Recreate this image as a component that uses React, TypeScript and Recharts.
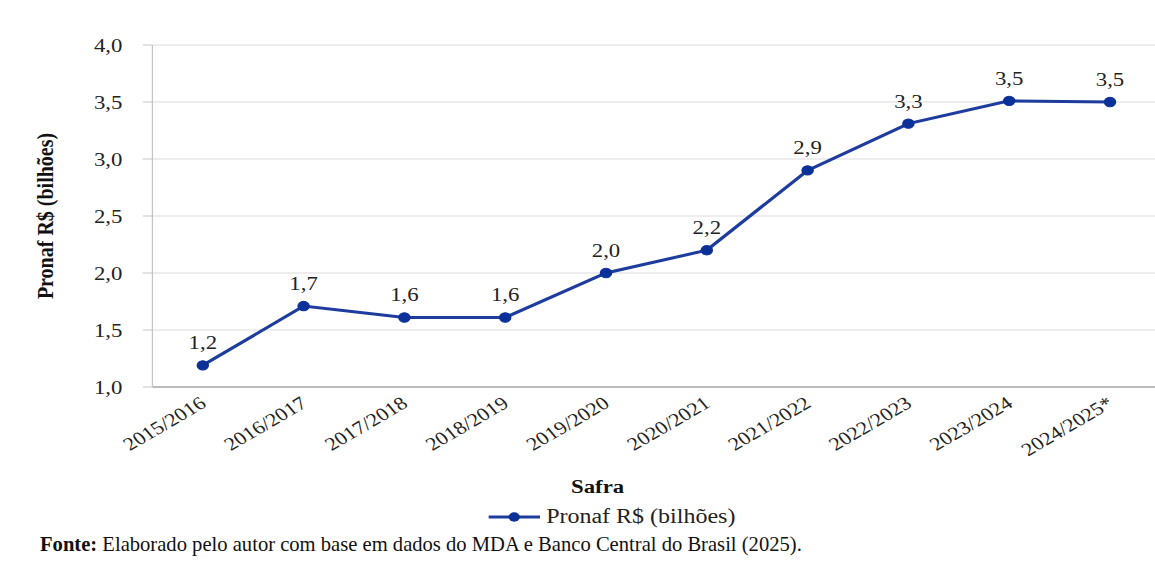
import React from 'react';
import { LineChart, Line, XAxis, YAxis, CartesianGrid, Legend, LabelList } from 'recharts';

const safras = ['2015/2016', '2016/2017', '2017/2018', '2018/2019', '2019/2020', '2020/2021', '2021/2022', '2022/2023', '2023/2024', '2024/2025*'];
const pronaf = [1.19, 1.71, 1.61, 1.61, 2.0, 2.2, 2.9, 3.31, 3.51, 3.5];
const yTicks = [1.0, 1.5, 2.0, 2.5, 3.0, 3.5, 4.0];

const chartData = safras.map((s, i) => ({ safra: s, valor: pronaf[i] }));

const FONT = '"Liberation Serif"';
const LINE = '#1d3c9d';
const DOT = '#0b3199';
// the source figure is stretched sideways, so the chart is drawn narrower and widened
const STRETCH = 1.2;

const fmt = (v: number) => v.toFixed(1).replace('.', ',');

const SafraTick = (props: any) => {
  const { x, y, payload } = props;
  const tx = x + 4;
  const ty = y + 11;
  return (
    <text x={tx} y={ty} textAnchor="end" fontSize={18.5} fontFamily={FONT} fill="#222" transform={`rotate(-35, ${tx}, ${ty})`}>
      {payload.value}
    </text>
  );
};

const LegendBox = () => (
  <div style={{ display: 'flex', alignItems: 'center', justifyContent: 'center', fontFamily: FONT, fontSize: 20, color: '#222', marginLeft: 53 }}>
    <svg width={43} height={12} style={{ marginRight: 5 }}>
      <line x1={0} y1={6} x2={43} y2={6} stroke={LINE} strokeWidth={3} />
      <circle cx={21.5} cy={6} r={4.7} fill={DOT} />
    </svg>
    <span>Pronaf R$ (bilhões)</span>
  </div>
);

export default function App() {
  return (
    <div style={{ position: 'absolute', left: 0, top: 0, width: 1155, height: 561, overflow: 'hidden', background: '#fff', fontFamily: FONT }}>
      <div style={{ width: 977, height: 561, transform: `scaleX(${STRETCH})`, transformOrigin: '0 0' }}>
        <LineChart width={977} height={561} data={chartData} margin={{ top: 45, right: 10, left: 0, bottom: 32 }}>
          <CartesianGrid vertical={false} stroke="#dcdcdc" />
          <XAxis
            dataKey="safra"
            height={118}
            padding={{ left: 42, right: 42 }}
            tick={<SafraTick />}
            tickLine={false}
            interval={0}
            stroke="#8a8a8a"
            label={{ value: 'Safra', position: 'insideBottom', offset: 12, dx: -49, style: { fontFamily: FONT, fontSize: 19, fontWeight: 700, fill: '#111' } }}
          />
          <YAxis
            width={127}
            domain={[1, 4]}
            ticks={yTicks}
            tickFormatter={fmt}
            tickSize={8}
            tickMargin={17}
            stroke="#c4c4c4"
            tick={{ fontFamily: FONT, fontSize: 19, fill: '#222' }}
            label={{ value: 'Pronaf R$ (bilhões)', angle: -90, position: 'insideLeft', offset: 37, style: { textAnchor: 'middle', fontFamily: FONT, fontSize: 20, fontWeight: 700, fill: '#111' } }}
          />
          <Legend verticalAlign="bottom" height={24} content={<LegendBox />} />
          <Line
            type="linear"
            dataKey="valor"
            stroke={LINE}
            strokeWidth={3}
            dot={{ r: 4.7, fill: DOT, stroke: DOT, strokeWidth: 1 }}
            isAnimationActive={false}
          >
            <LabelList dataKey="valor" position="top" offset={16} formatter={(v: any) => fmt(Number(v))} style={{ fontFamily: FONT, fontSize: 19, fill: '#222' }} />
          </Line>
        </LineChart>
      </div>
      <div style={{ position: 'absolute', left: 40, top: 533, fontSize: 20.6, color: '#111', whiteSpace: 'nowrap' }}>
        <b>Fonte:</b> Elaborado pelo autor com base em dados do MDA e Banco Central do Brasil (2025).
      </div>
    </div>
  );
}
